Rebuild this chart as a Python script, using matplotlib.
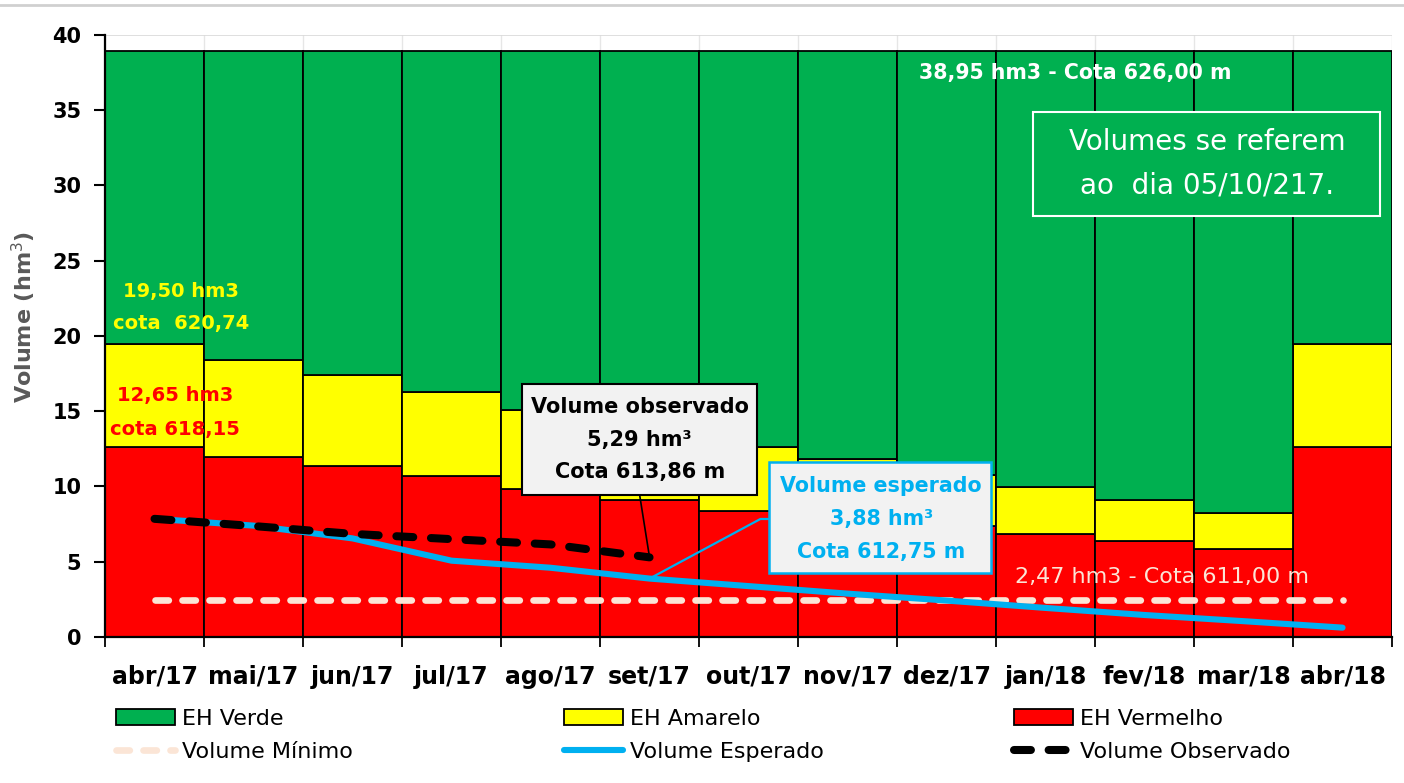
import matplotlib
matplotlib.use("Agg")
import matplotlib.pyplot as plt
from matplotlib.patches import Patch, Rectangle
from matplotlib.lines import Line2D
from matplotlib.ticker import FixedLocator

# meses do período hidrológico
MESES = ["abr/17", "mai/17", "jun/17", "jul/17", "ago/17", "set/17", "out/17",
         "nov/17", "dez/17", "jan/18", "fev/18", "mar/18", "abr/18"]
# limites superiores de cada faixa de estado hidrológico (hm3)
EH_VERMELHO = [12.65, 11.96, 11.36, 10.67, 9.83, 9.07, 8.40, 7.90, 7.38, 6.85, 6.38, 5.85, 12.65]
EH_AMARELO = [19.50, 18.38, 17.42, 16.29, 15.06, 13.87, 12.62, 11.80, 10.78, 9.96, 9.07, 8.22, 19.50]
EH_VERDE = [38.95] * 13
VOL_MINIMO = 2.47
VOL_ESPERADO = [7.85, 7.40, 6.55, 5.07, 4.60, 3.88, 3.38, 2.88, 2.42, 1.93, 1.46, 1.05, 0.62]
VOL_OBSERVADO = [7.85, 7.37, 6.85, 6.50, 6.15, 5.29]

VERDE, AMARELO, VERMELHO = "#00B050", "#FFFF00", "#FF0000"
AZUL, PESSEGO, CINZA = "#00B0F0", "#FBE5D6", "#F2F2F2"

plt.rcParams["font.family"] = ["DejaVu Sans"]

fig = plt.figure(figsize=(14.04, 7.83), dpi=100)
ax = fig.add_axes([0.0748, 0.1865, 0.9167, 0.7688])

x = list(range(len(MESES)))
amar_h = [a - v for a, v in zip(EH_AMARELO, EH_VERMELHO)]
verde_h = [g - a for g, a in zip(EH_VERDE, EH_AMARELO)]
bar_kw = dict(width=1.0, edgecolor="black", linewidth=1.3, zorder=2)
ax.bar(x, EH_VERMELHO, color=VERMELHO, **bar_kw)
ax.bar(x, amar_h, bottom=EH_VERMELHO, color=AMARELO, **bar_kw)
ax.bar(x, verde_h, bottom=EH_AMARELO, color=VERDE, **bar_kw)

l_min, = ax.plot(x, [VOL_MINIMO] * len(x), color=PESSEGO, lw=4.8, zorder=3,
                 dash_capstyle="round")
l_min.set_dashes([2.0, 2.05])
l_esp, = ax.plot(x, VOL_ESPERADO, color=AZUL, lw=4.4, zorder=4,
                 solid_capstyle="round", solid_joinstyle="round")
xo = x[:len(VOL_OBSERVADO)]
l_obs, = ax.plot(xo, VOL_OBSERVADO, color="black", lw=5.8, zorder=5,
                 dash_capstyle="round")
l_obs.set_dashes([2.1, 2.2])

ax.set_xlim(-0.5, len(MESES) - 0.5)
ax.set_ylim(0, 40)
ax.set_yticks(range(0, 41, 5))
ax.set_xticks(x)
ax.set_xticklabels(MESES, fontsize=17, fontweight="bold")
ax.xaxis.set_minor_locator(FixedLocator([i - 0.5 for i in range(len(MESES) + 1)]))
ax.tick_params(axis="x", which="major", length=0, pad=20)
ax.tick_params(axis="x", which="minor", length=7, width=1.3, direction="out")
ax.tick_params(axis="y", length=8, width=1.5, labelsize=15, pad=9)
for t in ax.get_yticklabels():
    t.set_fontweight("bold")
ax.set_ylabel("Volume (hm$^3$)", fontsize=16, fontweight="bold", color="#595959")
ax.yaxis.set_label_coords(-0.052, 0.532)

ax.set_axisbelow(True)
ax.yaxis.grid(True, color="#D9D9D9", lw=1.2)
ax.xaxis.grid(True, which="minor", color="#E6E6E6", lw=1.0)
for s in ("top", "right"):
    ax.spines[s].set_visible(False)
ax.spines["left"].set_linewidth(1.6)
ax.spines["bottom"].set_linewidth(1.6)

# textos de referência
ax.text(9.30, 37.5, "38,95 hm3 - Cota 626,00 m", color="white", fontsize=14.8,
        fontweight="bold", ha="center", va="center", zorder=6)
ax.text(0.27, 21.9, "19,50 hm3\ncota  620,74", color=AMARELO, fontsize=14,
        fontweight="bold", ha="center", va="center", linespacing=1.83, zorder=6)
ax.text(0.21, 14.92, "12,65 hm3\ncota 618,15", color=VERMELHO, fontsize=14,
        fontweight="bold", ha="center", va="center", linespacing=2.0, zorder=6)
ax.text(10.18, 3.99, "2,47 hm3 - Cota 611,00 m", color=PESSEGO, fontsize=16,
        ha="center", va="center", zorder=6)

# caixa da data de referência
ax.add_patch(Rectangle((8.878, 27.97), 3.498, 6.91, facecolor=VERDE,
                       edgecolor="white", lw=1.5, zorder=6))
ax.text(10.63, 31.42, "Volumes se referem\nao  dia 05/10/217.", color="white",
        fontsize=20, ha="center", va="center", linespacing=1.7, zorder=7)

# volume observado
ax.plot([4.90, xo[-1]], [9.44, VOL_OBSERVADO[-1]], color="black", lw=1.2, zorder=6)
ax.add_patch(Rectangle((3.71, 9.44), 2.38, 7.37, facecolor=CINZA,
                       edgecolor="black", lw=1.5, zorder=6))
ax.text(4.90, 13.09, "Volume observado\n5,29 hm³\nCota 613,86 m", color="black",
        fontsize=15, fontweight="bold", ha="center", va="center",
        linespacing=1.78, zorder=7)

# volume esperado
ax.plot([5, 6.12, 6.21], [VOL_ESPERADO[5], 7.84, 7.84], color=AZUL, lw=1.6, zorder=6)
ax.add_patch(Rectangle((6.21, 4.25), 2.24, 7.38, facecolor=CINZA,
                       edgecolor=AZUL, lw=1.8, zorder=6))
ax.text(7.34, 7.84, "Volume esperado\n3,88 hm³\nCota 612,75 m", color=AZUL,
        fontsize=14.9, fontweight="bold", ha="center", va="center",
        linespacing=1.8, zorder=7)

# legenda em três colunas
leg_kw = dict(frameon=False, fontsize=16, handlelength=2.65, handleheight=0.75,
              handletextpad=0.3, labelspacing=0.58, loc="upper left",
              borderaxespad=0, borderpad=0)
h_verde = Patch(facecolor=VERDE, edgecolor="black", lw=1.3)
h_amar = Patch(facecolor=AMARELO, edgecolor="black", lw=1.3)
h_verm = Patch(facecolor=VERMELHO, edgecolor="black", lw=1.3)
h_min = Line2D([], [], color=PESSEGO, lw=4.8, dash_capstyle="round", dashes=[2.0, 2.05])
h_esp = Line2D([], [], color=AZUL, lw=4.4, solid_capstyle="round")
h_obs = Line2D([], [], color="black", lw=5.8, dash_capstyle="round", dashes=[2.1, 2.2])
top = 1 - 709 / 783
fig.legend([h_verde, h_min], ["EH Verde", "Volume Mínimo"],
           bbox_to_anchor=(116 / 1404, top), **leg_kw)
fig.legend([h_amar, h_esp], ["EH Amarelo", "Volume Esperado"],
           bbox_to_anchor=(564 / 1404, top), **leg_kw)
fig.legend([h_verm, h_obs], ["EH Vermelho", "Volume Observado"],
           bbox_to_anchor=(1014 / 1404, top), **leg_kw)

# linha cinza no topo da página
fig.add_artist(Line2D([0, 1], [1 - 5 / 783, 1 - 5 / 783], color="#D0D0D0", lw=2))

fig.savefig("out.png", dpi=100, facecolor="white")
